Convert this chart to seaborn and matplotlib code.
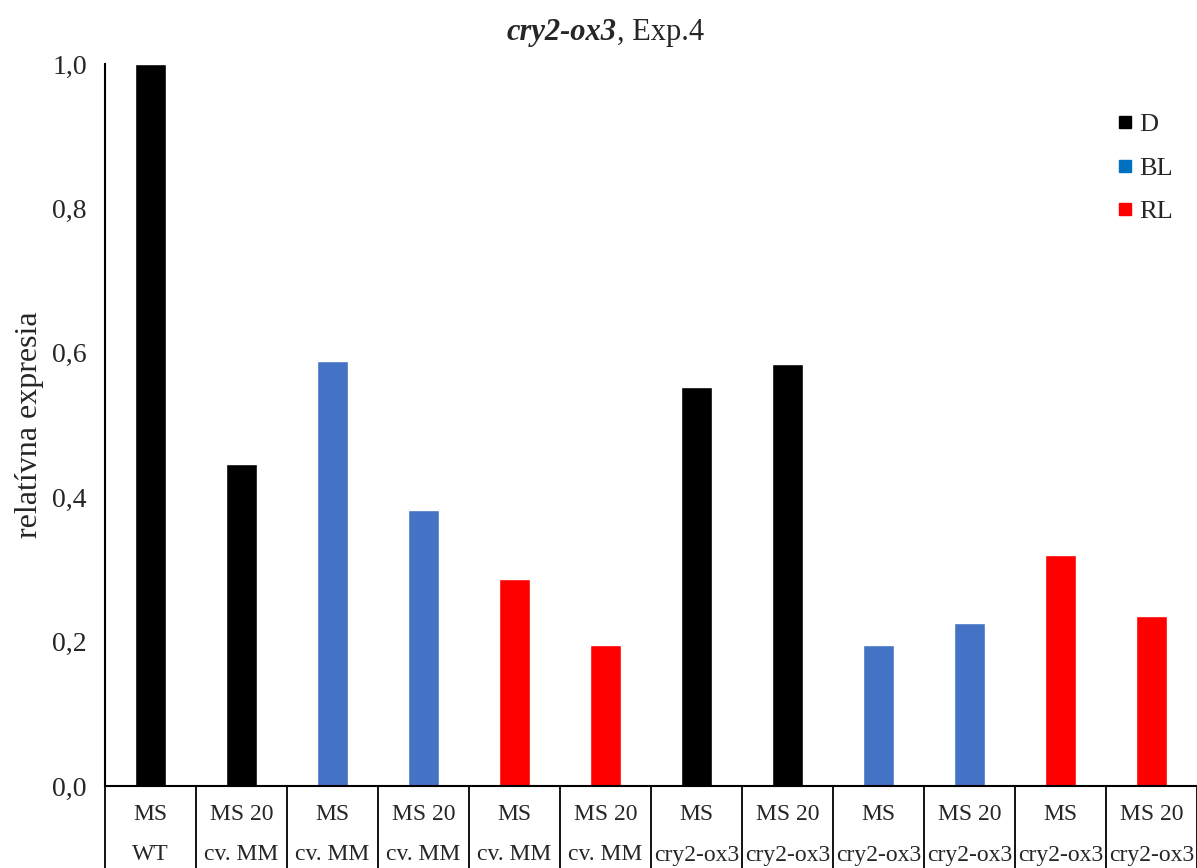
import numpy as np
import pandas as pd
import matplotlib
matplotlib.use("Agg")
import matplotlib.pyplot as plt
import matplotlib.transforms as mtransforms
from matplotlib.lines import Line2D
import seaborn as sns

# ---- data ----
media = ["MS", "MS 20", "MS", "MS 20", "MS", "MS 20",
         "MS", "MS 20", "MS", "MS 20", "MS", "MS 20"]
lines = ["WT", "cv. MM", "cv. MM", "cv. MM", "cv. MM", "cv. MM",
         "cry2-ox3", "cry2-ox3", "cry2-ox3", "cry2-ox3", "cry2-ox3", "cry2-ox3"]
light = ["D", "D", "BL", "BL", "RL", "RL", "D", "D", "BL", "BL", "RL", "RL"]
values = [1.0, 0.446, 0.589, 0.382, 0.287, 0.195,
          0.553, 0.584, 0.195, 0.226, 0.320, 0.235]
legend_labels = ["D", "BL", "RL"]
yticks = [0.0, 0.2, 0.4, 0.6, 0.8, 1.0]

bar_colors = {"D": "#000000", "BL": "#4472C4", "RL": "#FF0000"}
legend_colors = {"D": "#000000", "BL": "#0070C0", "RL": "#FF0000"}

sns.set_style("white")
plt.rcParams["font.family"] = ["Liberation Serif", "DejaVu Serif"]

W, H = 1197, 868
fig = plt.figure(figsize=(W / 100, H / 100), dpi=100)
ax = fig.add_axes([105 / W, (H - 786) / H, (1197 - 105) / W, (786 - 64) / H])

df = pd.DataFrame({"pos": [str(i) for i in range(len(values))],
                   "value": values, "light": light})
sns.barplot(data=df, x="pos", y="value", hue="light", dodge=False,
            palette=bar_colors, width=0.33, legend=False, ax=ax,
            saturation=1, errorbar=None)

ax.set_xlim(-0.5, len(values) - 0.5)
ax.set_ylim(0, 1.0)
ax.set_yticks(yticks)
ax.set_yticklabels([f"{v:.1f}".replace(".", ",") for v in yticks], fontsize=20)
ax.set_xlabel("")
ax.set_ylabel("")
ax.set_xticks(np.arange(-0.5, len(values), 1.0))
ax.set_xticklabels([])
ax.tick_params(axis="x", direction="in", length=6, width=1.3, color="black")
ax.tick_params(axis="y", direction="out", length=6, width=1.3, color="black", pad=7)

for s in ["top", "right"]:
    ax.spines[s].set_visible(False)
for s in ["left", "bottom"]:
    ax.spines[s].set_color("black")
    ax.spines[s].set_linewidth(1.5)

# table-like category axis
axes_h_px = 786 - 64
depth = (H - 786) / axes_h_px
trans = mtransforms.blended_transform_factory(ax.transData, ax.transAxes)
for b in np.arange(-0.5, len(values), 1.0):
    ax.plot([b, b], [0, -depth - 0.01], transform=trans, color="black",
            lw=1.3, clip_on=False)

for i, (m, l) in enumerate(zip(media, lines)):
    ax.text(i, -29 / axes_h_px, m, transform=trans, ha="center", va="center",
            fontsize=17)
    ax.text(i, -69 / axes_h_px, l, transform=trans, ha="center", va="center",
            fontsize=17)

# legend
handles = [Line2D([0], [0], marker="s", linestyle="none", markersize=9,
                  markerfacecolor=legend_colors[k], markeredgecolor=legend_colors[k])
           for k in legend_labels]
leg = ax.legend(handles, legend_labels, loc="upper right",
                bbox_to_anchor=(1.0, 0.965), frameon=False, fontsize=19,
                handlelength=0.6, handletextpad=0.25, labelspacing=0.75)

# title
fig.text(617 / W, 1 - 40 / H, "cry2-ox3", ha="right", va="baseline",
         fontsize=22, fontweight="bold", fontstyle="italic")
fig.text(617 / W, 1 - 40 / H, ", Exp.4", ha="left", va="baseline", fontsize=22)

# y label
fig.text(30 / W, 1 - 425 / H, "relatívna expresia", rotation=90,
         ha="center", va="center", fontsize=23)

fig.savefig("out.png", dpi=100, facecolor="white")
